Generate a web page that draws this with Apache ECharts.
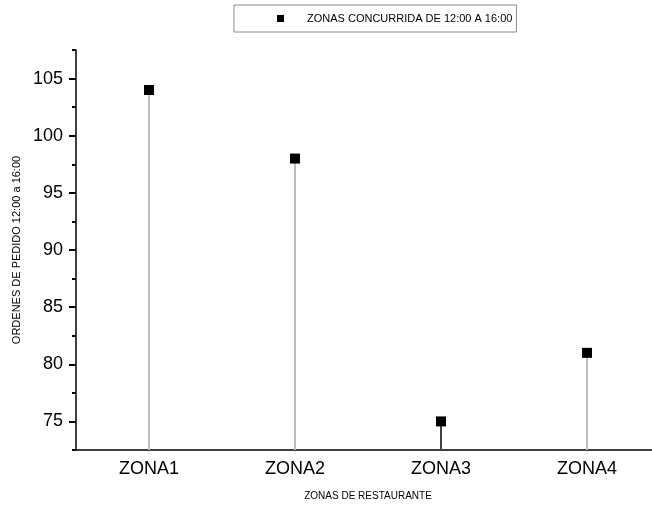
<!DOCTYPE html>
<html style="height: 100%">
<head>
    <meta charset="utf-8">
</head>
<body style="height: 100%; margin: 0; background: #fff">
<div id="container" style="width: 652px; height: 507px"></div>

<script type="text/javascript" src="https://cdn.jsdelivr.net/npm/echarts@6/dist/echarts.min.js"></script>
<script type="text/javascript">
    // data
    var zonas = ['ZONA1', 'ZONA2', 'ZONA3', 'ZONA4'];
    var ordenes = [104, 98, 75, 81];
    var serieNombre = 'ZONAS CONCURRIDA DE 12:00 A 16:00';
    var yTicks = [75, 80, 85, 90, 95, 100, 105];

    var dom = document.getElementById("container");
    var myChart = echarts.init(dom);
    var font = 'Liberation Sans, Arial, sans-serif';

    var option = {
        backgroundColor: '#fff',
        animation: false,
        textStyle: {fontFamily: font},
        legend: {
            left: 234,
            top: 5,
            data: [serieNombre],
            icon: 'rect',
            itemWidth: 7,
            itemHeight: 7,
            itemStyle: {color: '#000'},
            borderColor: '#8a8a8a',
            borderWidth: 1,
            padding: [8, 4, 8, 43],
            textStyle: {
                fontFamily: font,
                fontSize: 11,
                color: '#000',
                padding: [0, 0, 0, 18]
            }
        },
        grid: {
            left: 76,
            right: -8,
            top: 50,
            bottom: 57,
            containLabel: false,
            outerBoundsMode: 'none'
        },
        xAxis: [
            {
                type: 'category',
                data: zonas,
                name: 'ZONAS DE RESTAURANTE',
                nameLocation: 'middle',
                nameGap: 41,
                nameTextStyle: {fontFamily: font, fontSize: 10, color: '#000'},
                axisLine: {lineStyle: {color: '#000', width: 1.5}},
                axisTick: {alignWithLabel: true, length: 6, lineStyle: {color: '#000', width: 2}},
                axisLabel: {fontFamily: font, fontSize: 18, color: '#000', margin: 10}
            },
            {
                // small ticks between categories
                type: 'category',
                data: zonas,
                position: 'bottom',
                axisLine: {show: false},
                axisTick: {length: 3, lineStyle: {color: '#000', width: 2}},
                axisLabel: {show: false}
            }
        ],
        yAxis: {
            type: 'value',
            min: 72.5,
            max: 107.5,
            interval: 5,
            name: 'ORDENES DE PEDIDO 12:00 a 16:00',
            nameLocation: 'middle',
            nameGap: 46,
            nameTextStyle: {fontFamily: font, fontSize: 11, color: '#000'},
            splitLine: {show: false},
            axisLine: {show: true, lineStyle: {color: '#000', width: 1.5}},
            // ticks counted from min (72.5, 77.5 ...) are the short ones,
            // the halfway minor ticks land on the labelled values
            axisTick: {show: true, length: 4, lineStyle: {color: '#000', width: 2}},
            minorTick: {show: true, splitNumber: 2, length: 7, lineStyle: {color: '#000', width: 2}},
            axisLabel: {fontFamily: font, fontSize: 18, color: '#000', margin: 13, customValues: yTicks}
        },
        series: [
            {
                type: 'bar',
                barWidth: 2,
                itemStyle: {
                    color: function (p) {
                        return p.dataIndex === 2 ? '#444' : '#bdbdbd';
                    }
                },
                data: ordenes
            },
            {
                name: serieNombre,
                type: 'scatter',
                symbol: 'rect',
                symbolSize: 10,
                itemStyle: {color: '#000', opacity: 1},
                data: ordenes
            }
        ]
    };

    if (option && typeof option === 'object') {
        myChart.setOption(option);
    }
</script>
</body>
</html>
